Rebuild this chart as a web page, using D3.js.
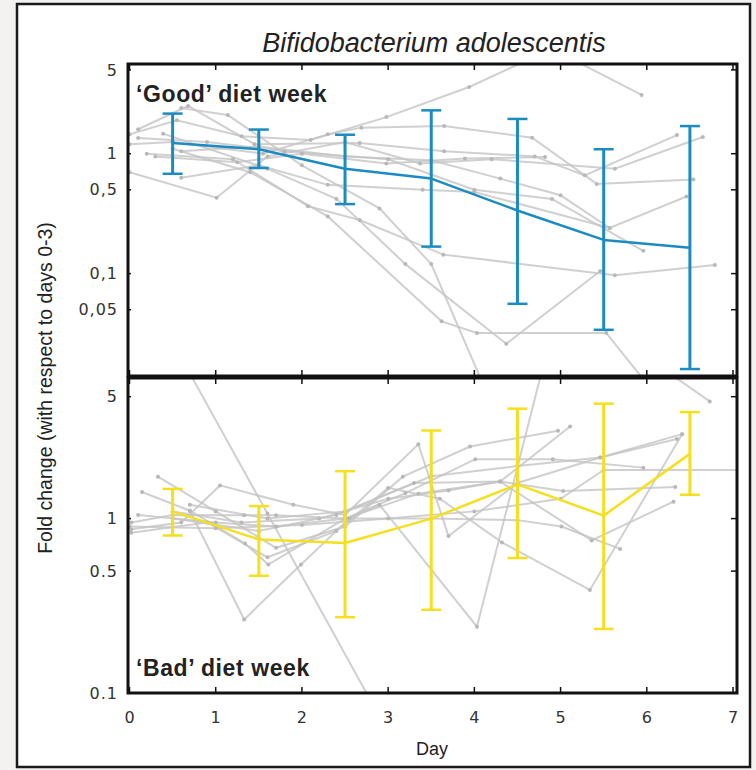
<!DOCTYPE html>
<html>
<head>
<meta charset="utf-8">
<script src="https://cdn.jsdelivr.net/npm/d3@7"></script>
<style>
  body { margin: 0; background: #f3f2f0; }
  svg { display: block; }
  text { font-family: "Liberation Sans", Arial, sans-serif; fill: #222; }
  .tick-label { font-family: "DejaVu Sans", sans-serif; font-size: 16px; fill: #333; }
</style>
</head>
<body>
<script>
// Data
const barDays = [0.5, 1.5, 2.5, 3.5, 4.5, 5.5, 6.5];

const goodMean = [1.23, 1.09, 0.75, 0.62, 0.336, 0.191, 0.164];
const goodLow  = [0.68, 0.76, 0.38, 0.168, 0.056, 0.034, 0.016];
const goodHigh = [2.16, 1.59, 1.44, 2.3, 1.95, 1.09, 1.70];

const badMean = [1.10, 0.76, 0.725, 1.0, 1.57, 1.04, 2.35];
const badLow  = [0.80, 0.47, 0.272, 0.30, 0.594, 0.233, 1.37];
const badHigh = [1.48, 1.18, 1.87, 3.2, 4.27, 4.56, 4.08];

// individual subjects, [day, fold change]
const goodSubjects = [
    [[0.0, 1.45], [0.55, 1.9], [1.3, 1.4], [2.1, 1.3], [2.98, 2.02], [3.94, 3.6], [4.9, 7.5], [5.94, 3.09]],
    [[0.0, 1.2], [0.5, 1.25], [1.55, 1.0], [2.3, 1.45], [2.69, 1.65], [3.65, 1.7], [4.67, 1.36], [5.42, 0.56], [6.54, 0.61]],
    [[0.1, 1.6], [0.68, 2.5], [1.45, 1.2], [2.67, 1.23], [3.65, 1.05], [4.7, 0.95], [5.28, 0.66], [6.35, 1.43]],
    [[0.3, 0.95], [1.25, 0.85], [2.0, 1.0], [2.98, 0.83], [3.89, 0.91], [4.82, 0.94]],
    [[0.0, 0.7], [1.01, 0.43], [1.6, 0.95], [2.5, 1.25], [3.37, 0.83], [4.2, 0.9], [5.63, 0.75], [6.65, 1.38]],
    [[0.6, 0.63], [1.5, 0.8], [2.3, 0.55], [3.4, 0.5], [4.0, 0.48], [5.57, 0.24], [6.46, 0.44]],
    [[0.2, 1.0], [1.2, 0.9], [2.07, 0.365], [2.67, 0.28], [3.64, 0.144], [5.63, 0.097], [6.79, 0.118]],
    [[0.39, 1.47], [1.6, 0.75], [2.4, 0.42], [3.2, 0.12], [4.37, 0.026], [5.46, 0.105]],
    [[0.5, 1.1], [1.4, 0.7], [2.3, 0.3], [3.62, 0.04], [4.03, 0.032], [5.53, 0.032], [6.2, 0.008]],
    [[0.6, 2.4], [1.14, 2.1], [2.0, 0.8], [2.9, 0.35], [3.5, 0.12], [4.1, 0.012]],
    [[0.1, 1.35], [0.9, 1.25], [1.8, 1.05], [3.0, 0.9], [4.0, 0.5], [4.9, 0.42], [5.96, 0.155]],
    [[0.6, 1.05], [1.5, 1.15], [2.5, 0.95], [3.5, 0.88], [4.3, 0.62], [5.0, 0.45], [5.57, 0.24]]
];

const badSubjects = [
    [[0.4, 12.6], [1.6, 1.07], [2.95, 0.066]],
    [[0.33, 1.74], [1.0, 1.1], [1.7, 0.68], [2.5, 0.9], [3.17, 1.74], [3.95, 2.59], [4.97, 3.19]],
    [[0.145, 1.42], [0.7, 1.11], [1.34, 0.72], [1.61, 0.545], [2.5, 1.0], [3.35, 1.39], [4.3, 1.63], [5.11, 3.37]],
    [[0.02, 0.87], [0.6, 0.95], [1.05, 1.55], [1.9, 1.2], [2.5, 1.05], [3.35, 2.67], [3.7, 0.795], [4.5, 1.6], [5.46, 2.24], [6.41, 3.05]],
    [[0.7, 1.11], [1.33, 0.264], [1.99, 0.545], [2.55, 1.0], [2.9, 1.2], [4.03, 0.24], [5.0, 18.6], [6.73, 4.7]],
    [[0.02, 0.95], [0.5, 1.05], [1.33, 1.045], [1.7, 1.045], [2.5, 1.0], [3.5, 1.0], [4.5, 0.98], [5.01, 0.9], [5.69, 0.67]],
    [[0.1, 1.05], [1.0, 0.95], [1.7, 0.9], [2.5, 1.0], [3.2, 1.4], [4.01, 2.19], [4.91, 2.19], [5.96, 1.96]],
    [[0.02, 0.83], [0.9, 0.95], [1.6, 0.6], [2.4, 0.85], [3.0, 1.5], [3.6, 1.3], [4.32, 0.73], [5.34, 0.39], [6.41, 3.05]],
    [[0.5, 1.0], [1.5, 0.85], [2.4, 1.05], [3.3, 1.6], [4.3, 1.63], [5.03, 1.44], [6.33, 1.52]],
    [[0.7, 1.2], [1.6, 1.0], [2.5, 1.1], [3.5, 1.75], [4.5, 2.0], [5.46, 2.24], [6.35, 2.86]],
    [[0.0, 0.9], [1.0, 0.88], [2.0, 0.92], [3.0, 1.0], [4.0, 1.1], [5.0, 1.3], [5.5, 1.9], [7.2, 1.9]],
    [[0.5, 1.1], [1.3, 0.95], [2.2, 1.0], [3.0, 1.3], [3.7, 1.45], [4.3, 1.63], [5.36, 0.75], [6.31, 1.25]]
];

const dayTicks = [0, 1, 2, 3, 4, 5, 6, 7];
const goodTicks = [5, 1, 0.5, 0.1, 0.05];
const goodTickLabels = ["5", "1", "0,5", "0,1", "0,05"];
const badTicks = [5, 1, 0.5, 0.1];
const badTickLabels = ["5", "1", "0.5", "0.1"];

const width = 756, height = 770;
const frameLeft = 128, frameRight = 737;

const svg = d3.select("body")
    .append("svg")
    .attr("width", width)
    .attr("height", height);

// outer box
svg.append("rect")
    .attr("x", 17).attr("y", 4)
    .attr("width", 733).attr("height", 763)
    .attr("fill", "#fff")
    .attr("stroke", "#1a1a1a")
    .attr("stroke-width", 2.5);

const x = d3.scaleLinear().domain([0, 7]).range([129.5, 733]);

const panels = [
    {
        name: "good", top: 64, bottom: 376,
        y: d3.scaleLog().domain([0.014, 5.6]).range([376, 64]),
        mean: goodMean, low: goodLow, high: goodHigh, subjects: goodSubjects,
        ticks: goodTicks, tickLabels: goodTickLabels,
        color: "#1b8bc2",
        label: "\u2018Good\u2019 diet week", labelY: 102
    },
    {
        name: "bad", top: 378, bottom: 693,
        y: d3.scaleLog().domain([0.1, 6.4]).range([693, 378]),
        mean: badMean, low: badLow, high: badHigh, subjects: badSubjects,
        ticks: badTicks, tickLabels: badTickLabels,
        color: "#f5df1e",
        label: "\u2018Bad\u2019 diet week", labelY: 676
    }
];

panels.forEach(p => {
    const g = svg.append("g");
    const y = p.y;

    // clip to the panel frame
    g.append("clipPath")
        .attr("id", "clip-" + p.name)
        .append("rect")
        .attr("x", frameLeft).attr("y", p.top)
        .attr("width", frameRight - frameLeft).attr("height", p.bottom - p.top);

    const plot = g.append("g").attr("clip-path", `url(#clip-${p.name})`);

    const subjLine = d3.line()
        .x(d => x(d[0]))
        .y(d => y(d[1]));

    // grey individual traces
    plot.selectAll(".subject")
        .data(p.subjects)
        .enter()
        .append("path")
        .attr("d", subjLine)
        .attr("fill", "none")
        .attr("stroke", "#c4c4c4")
        .attr("stroke-opacity", 0.8)
        .attr("stroke-width", 2);

    plot.selectAll(".dot")
        .data(p.subjects.flat())
        .enter()
        .append("circle")
        .attr("cx", d => x(d[0]))
        .attr("cy", d => y(d[1]))
        .attr("r", 2)
        .attr("fill", "#b8b8b8");

    // mean line
    const meanLine = d3.line()
        .x((d, i) => x(barDays[i]))
        .y(d => y(d));

    plot.append("path")
        .datum(p.mean)
        .attr("d", meanLine)
        .attr("fill", "none")
        .attr("stroke", p.color)
        .attr("stroke-width", 2.5)
        .attr("stroke-linejoin", "round");

    // error bars
    const capW = 10;
    barDays.forEach((day, i) => {
        const cx = x(day);
        plot.append("line")
            .attr("x1", cx).attr("x2", cx)
            .attr("y1", y(p.low[i])).attr("y2", y(p.high[i]))
            .attr("stroke", p.color).attr("stroke-width", 3);
        [p.low[i], p.high[i]].forEach(v => {
            plot.append("line")
                .attr("x1", cx - capW).attr("x2", cx + capW)
                .attr("y1", y(v)).attr("y2", y(v))
                .attr("stroke", p.color).attr("stroke-width", 2.5);
        });
    });

    // inner ticks on all sides
    const tickLen = 6;
    dayTicks.forEach(d => {
        g.append("line")
            .attr("x1", x(d)).attr("x2", x(d))
            .attr("y1", p.top).attr("y2", p.top + tickLen)
            .attr("stroke", "#111").attr("stroke-width", 1.5);
        g.append("line")
            .attr("x1", x(d)).attr("x2", x(d))
            .attr("y1", p.bottom).attr("y2", p.bottom - tickLen)
            .attr("stroke", "#111").attr("stroke-width", 1.5);
    });
    p.ticks.forEach((t, i) => {
        g.append("line")
            .attr("x1", frameLeft).attr("x2", frameLeft + 3)
            .attr("y1", y(t)).attr("y2", y(t))
            .attr("stroke", "#111").attr("stroke-width", 1.5);
        g.append("line")
            .attr("x1", frameRight).attr("x2", frameRight - tickLen)
            .attr("y1", y(t)).attr("y2", y(t))
            .attr("stroke", "#111").attr("stroke-width", 1.5);
        g.append("text")
            .attr("class", "tick-label")
            .attr("x", 118)
            .attr("y", y(t))
            .attr("dy", "0.35em")
            .style("text-anchor", "end")
            .style("letter-spacing", "1px")
            .text(p.tickLabels[i]);
    });

    // frame
    g.append("rect")
        .attr("x", frameLeft).attr("y", p.top)
        .attr("width", frameRight - frameLeft).attr("height", p.bottom - p.top)
        .attr("fill", "none")
        .attr("stroke", "#111")
        .attr("stroke-width", 3);

    // panel label
    g.append("text")
        .attr("x", 136)
        .attr("y", p.labelY)
        .style("font-size", "23px")
        .style("font-weight", "bold")
        .style("letter-spacing", "0.6px")
        .text(p.label);
});

// x tick labels
svg.selectAll(".xlabel")
    .data(dayTicks)
    .enter()
    .append("text")
    .attr("class", "tick-label")
    .attr("x", d => x(d))
    .attr("y", 723)
    .style("text-anchor", "middle")
    .text(d => d);

// title
svg.append("text")
    .attr("x", 434)
    .attr("y", 52)
    .style("text-anchor", "middle")
    .style("font-size", "27px")
    .style("font-style", "italic")
    .text("Bifidobacterium adolescentis");

// axis titles
svg.append("text")
    .attr("x", 432)
    .attr("y", 755)
    .style("text-anchor", "middle")
    .style("font-size", "18px")
    .text("Day");

svg.append("text")
    .attr("transform", "translate(52,388) rotate(-90)")
    .style("text-anchor", "middle")
    .style("font-size", "19.5px")
    .text("Fold change (with respect to days 0-3)");
</script>
</body>
</html>
